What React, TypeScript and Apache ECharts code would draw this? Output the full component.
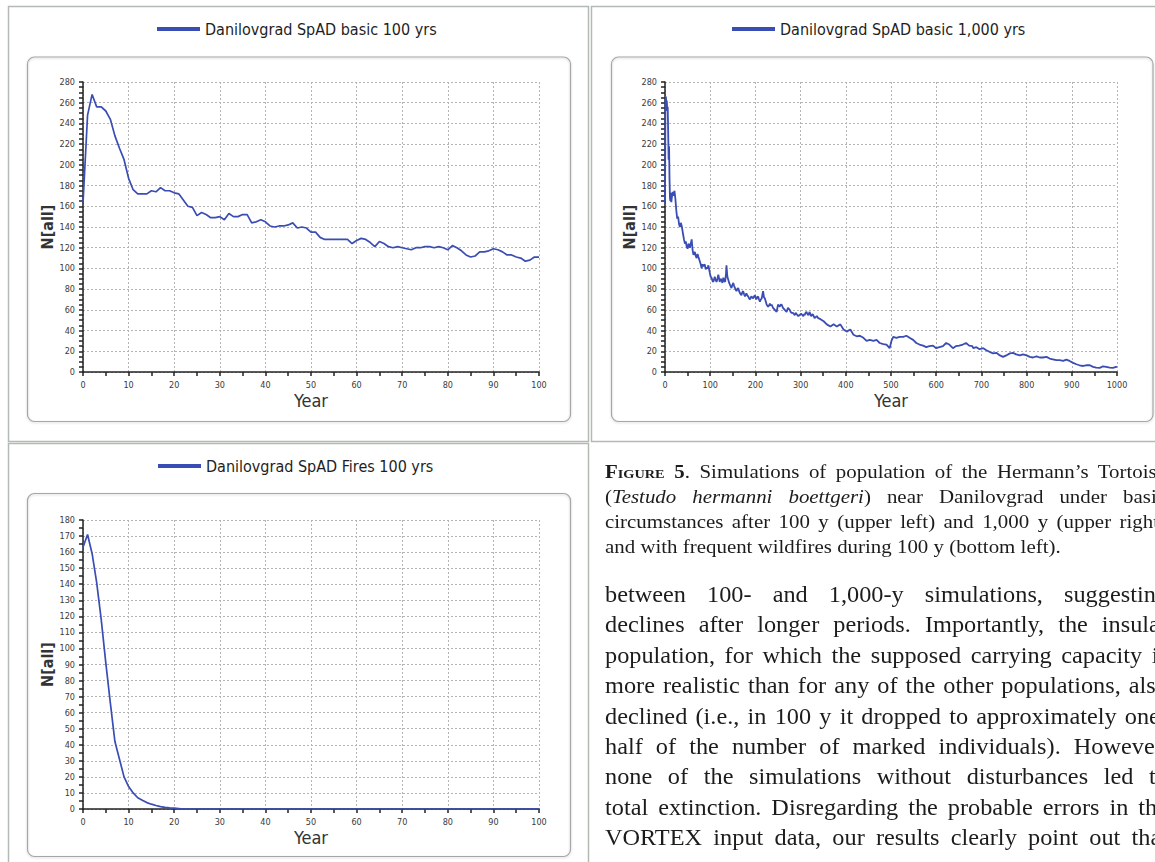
import React, { useEffect, useRef } from "react";
import * as echarts from "echarts";

// ---------- DATA ----------
const NAME_BASIC_100 = "Danilovgrad SpAD basic 100 yrs";
const NAME_BASIC_1000 = "Danilovgrad SpAD basic 1,000 yrs";
const NAME_FIRES_100 = "Danilovgrad SpAD Fires 100 yrs";

// Basic 100 yrs: one value per year, index = year (0..100)
const basic100Values = [
  163, 248, 268, 256, 256, 252, 244, 228, 216, 205,
  187, 176, 172, 172, 172, 175, 174, 178, 175, 175,
  173, 172, 166, 160, 159, 151, 154, 152, 149, 149,
  150, 147, 153, 150, 150, 152, 152, 144, 145, 147,
  145, 141, 140, 141, 141, 142, 144, 139, 140, 139,
  135, 135, 130, 128, 128, 128, 128, 128, 128, 124,
  127, 129, 128, 125, 121, 126, 124, 121, 120, 121,
  120, 119, 118, 120, 120, 121, 121, 120, 121, 120,
  118, 122, 120, 117, 113, 111, 112, 116, 116, 117,
  119, 118, 116, 113, 113, 111, 110, 107, 108, 111, 111,
];

// Fires 100 yrs: one value per year, index = year (0..100)
const fires100Values = [
  163, 171, 159, 141, 118, 91, 66, 42, 31, 20,
  14, 10, 7, 5.5, 4, 3, 2.2, 1.5, 1, 0.7,
  0.5, 0.3, 0, 0, 0, 0, 0, 0, 0, 0,
  0, 0, 0, 0, 0, 0, 0, 0, 0, 0,
  0, 0, 0, 0, 0, 0, 0, 0, 0, 0,
  0, 0, 0, 0, 0, 0, 0, 0, 0, 0,
  0, 0, 0, 0, 0, 0, 0, 0, 0, 0,
  0, 0, 0, 0, 0, 0, 0, 0, 0, 0,
  0, 0, 0, 0, 0, 0, 0, 0, 0, 0,
  0, 0, 0, 0, 0, 0, 0, 0, 0, 0, 0,
];

// Basic 1,000 yrs: readings
const basic1000Years = [
  0, 1, 2, 3, 4, 5, 6, 7, 8, 9, 10, 11, 12, 13, 14, 15, 17, 19, 21, 23,
  25, 27, 29, 31, 33, 35, 37, 40, 42, 44, 46, 48, 50, 52, 55, 57, 59, 61, 63, 66,
  68, 70, 72, 74, 77, 79, 81, 83, 85, 88, 90, 92, 94, 96, 99, 101, 103, 105, 107, 110,
  112, 114, 116, 118, 121, 123, 125, 127, 129, 131, 133, 135, 136, 138, 140, 142, 144, 147, 149, 151,
  153, 155, 158, 160, 162, 164, 166, 169, 171, 173, 175, 177, 180, 182, 184, 186, 188, 191, 193, 195,
  197, 199, 202, 204, 206, 208, 210, 212, 214, 216, 217, 219, 221, 223, 225, 228, 230, 232, 234, 236,
  238, 239, 241, 243, 245, 247, 250, 252, 254, 256, 258, 261, 263, 265, 267, 269, 272, 274, 276, 278,
  280, 283, 285, 287, 289, 291, 293, 295, 298, 300, 302, 304, 306, 308, 309, 311, 313, 315, 317, 320,
  322, 324, 326, 328, 331, 336, 339, 344, 351, 358, 366, 373, 380, 388, 395, 402, 410, 417, 424, 431,
  439, 446, 453, 461, 468, 475, 483, 490, 497, 501, 505, 512, 519, 527, 534, 541, 549, 556, 563, 571,
  578, 585, 593, 600, 607, 615, 622, 629, 637, 644, 651, 659, 666, 673, 680, 682, 689, 696, 704, 711,
  718, 726, 733, 741, 748, 755, 763, 770, 777, 785, 792, 800, 807, 814, 822, 829, 836, 844, 851, 858,
  866, 873, 881, 888, 895, 903, 910, 917, 925, 932, 940, 947, 954, 962, 969, 976, 984, 991, 998, 1000,
];
const basic1000Values = [
  163, 262, 266, 258, 262, 252, 256, 232, 205, 218, 186, 168, 165, 173, 164, 168, 174, 170, 175, 167,
  156, 148, 150, 143, 140, 144, 141, 133, 128, 124, 126, 121, 119, 124, 120, 124, 128, 118, 113, 116,
  112, 110, 114, 111, 107, 104, 100, 104, 102, 104, 99, 101, 100, 103, 96, 92, 91, 88, 87, 92,
  89, 87, 90, 94, 87, 90, 89, 86, 91, 88, 87, 95, 103, 92, 89, 86, 84, 81, 84, 86,
  83, 81, 78, 80, 81, 78, 76, 74, 77, 78, 75, 73, 76, 74, 73, 71, 70, 73, 72, 71,
  73, 74, 70, 72, 73, 70, 68, 70, 71, 76, 78, 72, 71, 68, 65, 63, 64, 66, 64, 65,
  63, 62, 61, 60, 59, 58, 65, 64, 63, 65, 65, 62, 61, 60, 59, 58, 62, 61, 60, 58,
  57, 57, 56, 55, 57, 56, 55, 54, 55, 56, 56, 55, 54, 56, 55, 57, 58, 56, 55, 58,
  55, 54, 56, 55, 52, 54, 52, 51, 49, 46, 44, 46, 44, 46, 41, 39, 41, 36, 34.5, 35,
  33, 30, 31, 30, 31, 28, 27, 26.5, 23, 30, 34, 33, 34, 34, 35, 33, 31, 28, 26.5, 25.5,
  24, 25, 25.5, 23, 24, 25, 28, 26.5, 23, 25, 25.5, 26.5, 28, 25.5, 25, 23, 24, 22, 23, 21,
  19.5, 18, 18.5, 16, 14.6, 16, 18, 18.5, 17, 16, 17, 16, 14.6, 14, 15, 14, 14, 14.6, 13, 12.3,
  11.4, 11.4, 10.7, 12, 10.7, 8.8, 7.5, 6.5, 5.8, 6.5, 6.5, 5, 4.2, 4, 5.5, 5, 4.2, 4, 5, 4.5,
];

// ---------- STYLE ----------
const LINE_COLOR = "#3a4db4";
const NARROW = '"Liberation Sans Narrow", "DejaVu Sans Condensed", "Arial Narrow", "Liberation Sans", sans-serif';
const SERIF = '"Liberation Serif", "Times New Roman", serif';
const AXIS_COLOR = "#222";
const GRID_COLOR = "#b4b4b4";

function xAxisCfg(gridIndex: number, max: number, interval: number) {
  return {
    type: "value",
    gridIndex,
    min: 0,
    max,
    interval,
    name: "Year",
    nameLocation: "middle",
    nameGap: 19,
    nameTextStyle: { fontFamily: NARROW, fontSize: 18, color: "#333", verticalAlign: "top" },
    axisLine: { show: true, onZero: false, lineStyle: { color: AXIS_COLOR, width: 1.5 } },
    axisTick: { show: true, length: 4, lineStyle: { color: AXIS_COLOR, width: 1.5 } },
    minorTick: { show: true, splitNumber: 2, length: 4, lineStyle: { color: AXIS_COLOR, width: 1.5 } },
    axisLabel: {
      fontFamily: NARROW,
      fontSize: 9,
      color: "#3a3a3a",
      margin: 8,
      formatter: (v: number) => String(v),
    },
    splitLine: { show: true, lineStyle: { color: GRID_COLOR, type: [2, 2], width: 1 } },
  };
}

function yAxisCfg(gridIndex: number, max: number, interval: number, minorSplit: number) {
  return {
    type: "value",
    gridIndex,
    min: 0,
    max,
    interval,
    name: "N[all]",
    nameLocation: "middle",
    nameRotate: 90,
    nameGap: 23,
    nameTextStyle: { fontFamily: NARROW, fontSize: 16, fontWeight: "bold", color: "#333" },
    axisLine: { show: true, onZero: false, lineStyle: { color: AXIS_COLOR, width: 1.5 } },
    axisTick: { show: true, length: 4, lineStyle: { color: AXIS_COLOR, width: 1.5 } },
    minorTick: { show: true, splitNumber: minorSplit, length: 4, lineStyle: { color: AXIS_COLOR, width: 1.5 } },
    axisLabel: {
      fontFamily: NARROW,
      fontSize: 9,
      color: "#3a3a3a",
      margin: 8,
      formatter: (v: number) => String(v),
    },
    splitLine: { show: true, lineStyle: { color: GRID_COLOR, type: [2, 2], width: 1 } },
  };
}

function legendCfg(name: string, left: number, top: number) {
  return {
    data: [name],
    left,
    top,
    padding: 0,
    icon: "rect",
    itemWidth: 43,
    itemHeight: 4,
    textStyle: { fontFamily: NARROW, fontSize: 16, color: "#1e1e1e" },
  };
}

function lineSeries(name: string, idx: number, data: number[][], width: number) {
  return {
    type: "line",
    name,
    xAxisIndex: idx,
    yAxisIndex: idx,
    data,
    showSymbol: false,
    symbol: "none",
    lineStyle: { color: LINE_COLOR, width },
    itemStyle: { color: LINE_COLOR },
    z: 5,
  };
}

const panelStroke = { fill: "none", stroke: "#b3bab3", lineWidth: 1.5 };
const boxStroke = {
  fill: "none",
  stroke: "#a6a6a6",
  lineWidth: 1.2,
  shadowBlur: 2,
  shadowOffsetY: 1,
  shadowColor: "rgba(0,0,0,0.18)",
};

const bodyLines = [
  "between 100- and 1,000-y simulations, suggesting",
  "declines after longer periods.  Importantly, the insular",
  "population, for which the supposed carrying capacity is",
  "more realistic than for any of the other populations, also",
  "declined (i.e., in 100 y it dropped to approximately one-",
  "half of the number of marked individuals).  However,",
  "none of the simulations without disturbances led to",
  "total extinction.  Disregarding the probable errors in the",
  "VORTEX input data, our results clearly point out that",
];

export default function App() {
  const ref = useRef<HTMLDivElement>(null);

  useEffect(() => {
    if (!ref.current) return;
    const chart = echarts.init(ref.current, undefined, { renderer: "svg" });
    const d1 = basic100Values.map((v, year) => [year, v]);
    const d2 = basic1000Years.map((y, i) => [y, basic1000Values[i]]);
    const d3 = fires100Values.map((v, year) => [year, v]);

    chart.setOption({
      animation: false,
      backgroundColor: "#ffffff",
      textStyle: { fontFamily: NARROW },
      graphic: [
        { type: "rect", silent: true, z: 0, shape: { x: 8.5, y: 6.5, width: 580, height: 435 }, style: panelStroke },
        { type: "rect", silent: true, z: 0, shape: { x: 591.5, y: 6.5, width: 600, height: 435 }, style: panelStroke },
        { type: "rect", silent: true, z: 0, shape: { x: 8.5, y: 443.5, width: 580, height: 440 }, style: panelStroke },
        { type: "rect", silent: true, z: 0, shape: { x: 27.5, y: 57, width: 543, height: 364.5, r: 7 }, style: boxStroke },
        { type: "rect", silent: true, z: 0, shape: { x: 611.5, y: 57, width: 541.5, height: 364.5, r: 7 }, style: boxStroke },
        { type: "rect", silent: true, z: 0, shape: { x: 27.5, y: 493.5, width: 543, height: 363, r: 7 }, style: boxStroke },
      ],
      legend: [
        legendCfg(NAME_BASIC_100, 157, 21),
        legendCfg(NAME_BASIC_1000, 732, 21),
        legendCfg(NAME_FIRES_100, 158, 458),
      ],
      grid: [
        { left: 83, top: 82, width: 456, height: 290, outerBoundsMode: "none" },
        { left: 665, top: 82, width: 452, height: 290, outerBoundsMode: "none" },
        { left: 83, top: 520, width: 456, height: 289, outerBoundsMode: "none" },
      ],
      xAxis: [xAxisCfg(0, 100, 10), xAxisCfg(1, 1000, 100), xAxisCfg(2, 100, 10)],
      yAxis: [yAxisCfg(0, 280, 20, 4), yAxisCfg(1, 280, 20, 4), yAxisCfg(2, 180, 10, 2)],
      series: [
        lineSeries(NAME_BASIC_100, 0, d1, 1.7),
        lineSeries(NAME_BASIC_1000, 1, d2, 1.8),
        lineSeries(NAME_FIRES_100, 2, d3, 1.7),
      ],
    });
    return () => chart.dispose();
  }, []);

  const capW = 561 / 1.1;
  const bodyW = 563 / 1.08;
  const lineBase: React.CSSProperties = {
    textAlign: "justify",
    textAlignLast: "justify",
    overflow: "hidden",
  };

  return (
    <div
      style={{
        position: "fixed",
        left: 0,
        top: 0,
        width: 1155,
        height: 862,
        overflow: "hidden",
        background: "#fff",
      }}
    >
      <div ref={ref} style={{ position: "absolute", left: 0, top: 0, width: 1155, height: 862 }} />
      <div
        style={{
          position: "absolute",
          left: 605,
          top: 459,
          fontFamily: SERIF,
          fontSize: 19,
          lineHeight: "25px",
          color: "#1c1c1c",
          transform: "scaleX(1.1)",
          transformOrigin: "0 0",
        }}
      >
        <div style={{ ...lineBase, width: capW, height: 25 }}>
          <span style={{ fontVariant: "small-caps", fontWeight: "bold" }}>Figure 5</span>. Simulations of
          population of the Hermann’s Tortoise
        </div>
        <div style={{ ...lineBase, width: capW, height: 25 }}>
          (<i>Testudo hermanni boettgeri</i>) near Danilovgrad under basic
        </div>
        <div style={{ ...lineBase, width: capW, height: 25 }}>
          circumstances after 100 y (upper left) and 1,000 y (upper right)
        </div>
        <div style={{ width: capW, height: 25, whiteSpace: "nowrap" }}>
          and with frequent wildfires during 100 y (bottom left).
        </div>
      </div>
      <div
        style={{
          position: "absolute",
          left: 605,
          top: 580,
          fontFamily: SERIF,
          fontSize: 22.5,
          lineHeight: "30.4px",
          color: "#1c1c1c",
          transform: "scaleX(1.08)",
          transformOrigin: "0 0",
        }}
      >
        {bodyLines.map((t, i) => (
          <div key={i} style={{ ...lineBase, width: bodyW, height: 30.4 }}>
            {t}
          </div>
        ))}
      </div>
    </div>
  );
}
